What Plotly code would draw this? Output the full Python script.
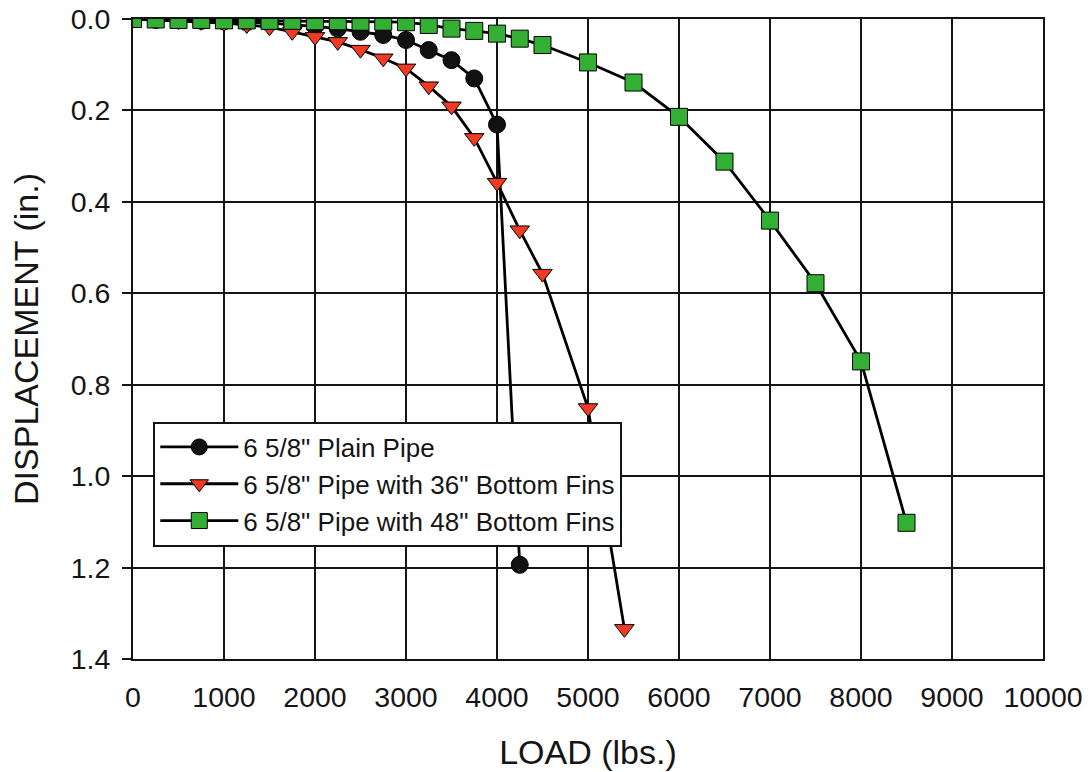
import plotly.graph_objects as go

# Load steps (lbs.) and measured displacements (in.) for each pipe configuration
plain_load = [0, 250, 500, 750, 1000, 1250, 1500, 1750, 2000, 2250,
              2500, 2750, 3000, 3250, 3500, 3750, 4000, 4250]
plain_disp = [0.0, 0.002, 0.003, 0.004, 0.005, 0.007, 0.009, 0.012, 0.016, 0.021,
              0.028, 0.035, 0.046, 0.068, 0.090, 0.130, 0.231, 1.194]

fins36_load = [0, 250, 500, 750, 1000, 1250, 1500, 1750, 2000, 2250,
               2500, 2750, 3000, 3250, 3500, 3750, 4000, 4250, 4500, 5000, 5400]
fins36_disp = [0.0, 0.002, 0.004, 0.006, 0.009, 0.013, 0.018, 0.028, 0.039, 0.050,
               0.067, 0.086, 0.108, 0.147, 0.191, 0.260, 0.358, 0.462, 0.557, 0.851, 1.334]

fins48_load = [0, 250, 500, 750, 1000, 1250, 1500, 1750, 2000, 2250,
               2500, 2750, 3000, 3250, 3500, 3750, 4000, 4250, 4500,
               5000, 5500, 6000, 6500, 7000, 7500, 8000, 8500]
fins48_disp = [0.0, 0.001, 0.002, 0.002, 0.003, 0.003, 0.004, 0.004, 0.005, 0.005,
               0.006, 0.006, 0.007, 0.013, 0.021, 0.026, 0.032, 0.043, 0.057,
               0.095, 0.139, 0.214, 0.312, 0.441, 0.578, 0.749, 1.102]

series_names = ['6 5/8" Plain Pipe',
                '6 5/8" Pipe with 36" Bottom Fins',
                '6 5/8" Pipe with 48" Bottom Fins']

x_ticks = list(range(0, 10001, 1000))
y_ticks = [0.0, 0.2, 0.4, 0.6, 0.8, 1.0, 1.2, 1.4]

FONT = "Liberation Sans, Arial, sans-serif"
INK = "#151515"

fig = go.Figure()

fig.add_trace(go.Scatter(
    x=plain_load, y=plain_disp, name=series_names[0], mode="lines+markers",
    line=dict(color="black", width=2.8),
    marker=dict(symbol="circle", size=17, color="#111111",
                line=dict(color="black", width=1)),
))
fig.add_trace(go.Scatter(
    x=fins36_load, y=fins36_disp, name=series_names[1], mode="lines+markers",
    line=dict(color="black", width=2.8),
    marker=dict(symbol="triangle-down", size=17, color="#F03A22",
                line=dict(color="black", width=1)),
))
fig.add_trace(go.Scatter(
    x=fins48_load, y=fins48_disp, name=series_names[2], mode="lines+markers",
    line=dict(color="black", width=2.8),
    marker=dict(symbol="square", size=17, color="#33B033",
                line=dict(color="black", width=1)),
))

fig.update_layout(
    width=1091, height=772,
    margin=dict(l=133, r=48, t=19, b=113),
    paper_bgcolor="white", plot_bgcolor="white",
    font=dict(family=FONT, color=INK),
    showlegend=True,
    legend=dict(
        x=0.0223, y=0.371, xanchor="left", yanchor="top",
        bgcolor="white", bordercolor=INK, borderwidth=2,
        font=dict(size=26, family=FONT, color=INK),
        itemwidth=78, tracegroupgap=0,
    ),
)

fig.update_xaxes(
    range=[0, 10000], tickvals=x_ticks, ticktext=[str(v) for v in x_ticks],
    showgrid=True, gridcolor=INK, gridwidth=1.6,
    showline=True, linecolor=INK, linewidth=2, mirror=True,
    zeroline=False, ticks="", automargin=False,
    tickfont=dict(size=28.5, family=FONT), ticklabelstandoff=12,
    title=dict(text="LOAD (lbs.)", font=dict(size=34, family=FONT), standoff=28),
)
fig.update_yaxes(
    range=[1.4, 0], tickvals=y_ticks, ticktext=[f"{v:.1f}" for v in y_ticks],
    showgrid=True, gridcolor=INK, gridwidth=1.6,
    showline=True, linecolor=INK, linewidth=2, mirror=True,
    zeroline=False, ticks="outside", ticklen=9, tickcolor=INK, tickwidth=1.6,
    automargin=False,
    tickfont=dict(size=28.5, family=FONT), ticklabelstandoff=6,
    title=dict(text="DISPLACEMENT (in.)", font=dict(size=34, family=FONT), standoff=22),
)

fig.write_html("out.html")
